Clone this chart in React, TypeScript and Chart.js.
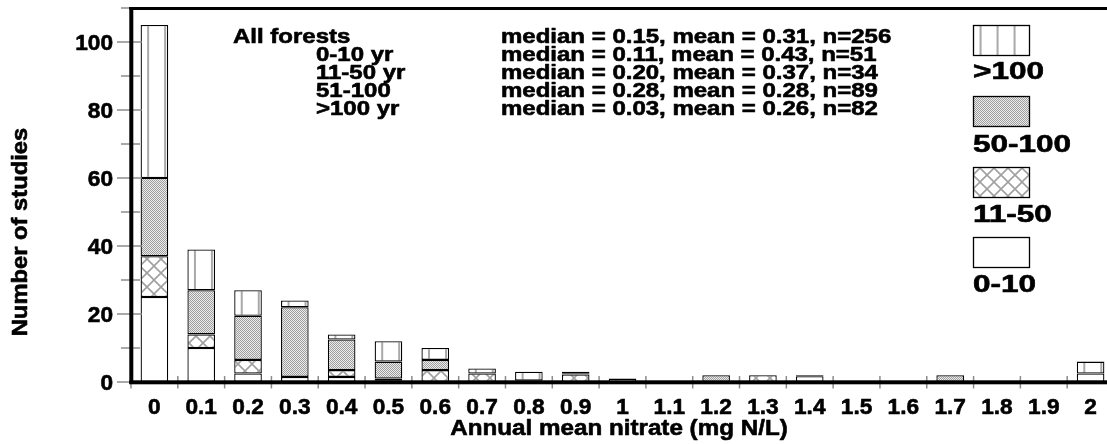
import { useEffect, useRef } from "react";
import { Chart, registerables } from "chart.js";

Chart.register(...registerables);

// Nitrate concentration bins (mg N/L)
const categories = [
  "0", "0.1", "0.2", "0.3", "0.4", "0.5", "0.6", "0.7", "0.8", "0.9", "1",
  "1.1", "1.2", "1.3", "1.4", "1.5", "1.6", "1.7", "1.8", "1.9", "2",
];

// Number of studies per bin, by forest age class
const age0to10 = [25, 10, 2.5, 1.5, 1.5, 0.5, 0, 0, 0, 0, 0, 0, 0, 0, 1.7, 0, 0, 0, 0, 0, 2.5];
const age11to50 = [12, 4, 4, 0, 2, 0.5, 3.5, 2.5, 0, 2.2, 0, 0, 0, 2, 0, 0, 0, 0, 0, 0, 0];
const age50to100 = [23, 13, 13, 20.5, 9, 5, 3, 0, 0.4, 0.4, 0, 0, 2, 0, 0, 0, 0, 2, 0, 0, 0];
const ageOver100 = [45, 12, 7.5, 2, 1.5, 6, 3.5, 1.5, 2.6, 0.4, 1, 0, 0, 0, 0.3, 0, 0, 0, 0, 0, 3.5];

const ageLabels = ["0-10", "11-50", "50-100", ">100"];

const yTickValues = [0, 20, 40, 60, 80, 100];
const yMinorValues = [10, 30, 50, 70, 90, 110];

const summaryGroups = ["All forests", "0-10 yr", "11-50 yr", "51-100", ">100 yr"];
const summaryStats = [
  "median = 0.15, mean = 0.31, n=256",
  "median = 0.11, mean = 0.43, n=51",
  "median = 0.20, mean = 0.37, n=34",
  "median = 0.28, mean = 0.28, n=89",
  "median = 0.03, mean = 0.26, n=82",
];

const xTitle = "Annual mean nitrate (mg N/L)";
const yTitle = "Number of studies";

const FONT = '"Liberation Sans", Arial, Helvetica, sans-serif';
const BAR_FRACTION = 0.59;
const TICK_GREY = "#8c8c8c";

function makeTile(w: number, h: number, paint: (g: CanvasRenderingContext2D) => void) {
  const c = document.createElement("canvas");
  c.width = w;
  c.height = h;
  paint(c.getContext("2d") as CanvasRenderingContext2D);
  return c;
}

const stippleTile = makeTile(2, 2, (g) => {
  g.fillStyle = "#ececec";
  g.fillRect(0, 0, 2, 2);
  g.fillStyle = "#9e9e9e";
  g.fillRect(0, 0, 1, 1);
  g.fillRect(1, 1, 1, 1);
});

const crossTile = makeTile(14, 14, (g) => {
  g.fillStyle = "#ffffff";
  g.fillRect(0, 0, 14, 14);
  g.strokeStyle = "#a0a0a0";
  g.lineWidth = 1.6;
  g.beginPath();
  g.moveTo(-1, -1);
  g.lineTo(15, 15);
  g.moveTo(15, -1);
  g.lineTo(-1, 15);
  g.stroke();
});

const stripeTile = makeTile(17, 2, (g) => {
  g.fillStyle = "#ffffff";
  g.fillRect(0, 0, 17, 2);
  g.fillStyle = "#a9a9a9";
  g.fillRect(0, 0, 2, 2);
});

function stripePattern(ctx: CanvasRenderingContext2D, left: number) {
  const p = ctx.createPattern(stripeTile, "repeat") as CanvasPattern;
  p.setTransform(new DOMMatrix().translate(left + 6.5, 0));
  return p;
}

function drawText(
  ctx: CanvasRenderingContext2D,
  text: string,
  x: number,
  y: number,
  size: number,
  sx: number,
  align: "left" | "right" | "center"
) {
  ctx.save();
  ctx.font = `bold ${size}px ${FONT}`;
  ctx.fillStyle = "#000";
  ctx.strokeStyle = "#000";
  ctx.lineWidth = 0.6;
  ctx.lineJoin = "round";
  ctx.textAlign = "left";
  ctx.textBaseline = "alphabetic";
  const w = ctx.measureText(text).width * sx;
  const left = align === "left" ? x : align === "right" ? x - w : x - w / 2;
  ctx.translate(left, y + 0.358 * size);
  ctx.scale(sx, 1);
  ctx.fillText(text, 0, 0);
  ctx.strokeText(text, 0, 0);
  ctx.restore();
}

const nz = (arr: number[]) => arr.map((v) => (v === 0 ? null : v));

export default function App() {
  const canvasRef = useRef<HTMLCanvasElement | null>(null);

  useEffect(() => {
    const canvas = canvasRef.current;
    if (!canvas) return;
    const ctx0 = canvas.getContext("2d") as CanvasRenderingContext2D;

    const barLeft = (chart: any, index: number) => {
      const xs = chart.scales.x;
      const step = xs.width / categories.length;
      return xs.getPixelForValue(index) - (step * BAR_FRACTION) / 2;
    };

    const fills: any[] = [
      "#ffffff",
      ctx0.createPattern(crossTile, "repeat"),
      ctx0.createPattern(stippleTile, "repeat"),
      (c: any) => {
        if (c.type !== "data" || !c.chart.scales.x) return stripePattern(ctx0, 0);
        return stripePattern(ctx0, barLeft(c.chart, c.dataIndex));
      },
    ];

    const decorations = {
      id: "decorations",
      afterDatasetsDraw(chart: any) {
        const ctx: CanvasRenderingContext2D = chart.ctx;
        const xs = chart.scales.x;
        const ys = chart.scales.y;
        const area = chart.chartArea;
        const y0 = ys.getPixelForValue(0);

        ctx.save();
        // y ticks
        ctx.strokeStyle = TICK_GREY;
        ctx.lineWidth = 1.5;
        for (const v of yTickValues) {
          const y = ys.getPixelForValue(v);
          ctx.beginPath();
          ctx.moveTo(117, y);
          ctx.lineTo(v === 0 ? 131 : 142, y);
          ctx.stroke();
        }
        for (const v of yMinorValues) {
          const y = ys.getPixelForValue(v);
          ctx.beginPath();
          ctx.moveTo(121, y);
          ctx.lineTo(v === 110 ? 131 : 140, y);
          ctx.stroke();
        }
        // x ticks at bin boundaries
        for (let i = 0; i <= categories.length; i++) {
          const x = xs.getPixelForValue(i - 0.5);
          ctx.beginPath();
          ctx.moveTo(x, y0 - 6);
          ctx.lineTo(x, y0 + 6.5);
          ctx.stroke();
        }

        // frame
        ctx.fillStyle = "#000";
        ctx.fillRect(area.left - 1.7, area.top - 1, 4, y0 - area.top + 3);
        ctx.fillRect(area.left - 1.7, area.top - 1, chart.width, 3);
        ctx.fillRect(area.left - 1.7, y0 - 1.7, chart.width, 4);

        // tick labels
        for (const v of yTickValues) {
          drawText(ctx, String(v), 113, ys.getPixelForValue(v), 22, 1.03, "right");
        }
        categories.forEach((label, i) => {
          drawText(ctx, label, xs.getPixelForValue(i), 406, 22, 1.03, "center");
        });

        // axis titles
        drawText(ctx, xTitle, (area.left + 1107) / 2, 427, 22, 1.1, "center");
        ctx.save();
        ctx.translate(19, 232);
        ctx.rotate(-Math.PI / 2);
        drawText(ctx, yTitle, 0, 0, 22, 1.08, "center");
        ctx.restore();

        // summary statistics
        summaryGroups.forEach((g, i) => {
          const y = 36 + i * 18;
          drawText(ctx, g, i === 0 ? 233 : 316, y, 20, 1.2, "left");
          drawText(ctx, summaryStats[i], 501, y, 20, 1.2, "left");
        });

        // age-class key, oldest on top
        const boxX = 973;
        const boxW = 57;
        const boxH = 31;
        const keyTops = [237, 167, 96, 25];
        const keyText = [284, 214, 144, 71];
        ageLabels.forEach((label, k) => {
          const top = keyTops[k];
          ctx.fillStyle = k === 3 ? stripePattern(ctx, boxX) : fills[k];
          ctx.fillRect(boxX, top, boxW, boxH);
          ctx.strokeStyle = "#000";
          ctx.lineWidth = 1.3;
          ctx.strokeRect(boxX + 0.5, top + 0.5, boxW - 1, boxH - 1);
          drawText(ctx, label, boxX, keyText[k], 23, 1.37, "left");
        });
        ctx.restore();
      },
    };

    const series = [age0to10, age11to50, age50to100, ageOver100];

    const chart = new Chart(canvas, {
      type: "bar",
      data: {
        labels: categories,
        datasets: series.map((values, k) => ({
          label: ageLabels[k],
          data: nz(values) as any,
          backgroundColor: fills[k],
          borderColor: "#000",
          borderWidth: 1.3,
          borderSkipped: false,
          categoryPercentage: 1,
          barPercentage: BAR_FRACTION,
        })),
      },
      options: {
        responsive: false,
        animation: false,
        devicePixelRatio: 1,
        layout: { padding: { top: 8, left: 0, right: 0, bottom: 0 } },
        plugins: { legend: { display: false }, tooltip: { enabled: false } },
        scales: {
          x: {
            stacked: true,
            grid: { display: false },
            border: { display: false },
            ticks: { display: false },
            afterFit: (s: any) => {
              s.height = 62;
            },
          },
          y: {
            stacked: true,
            min: 0,
            max: 110,
            grid: { display: false },
            border: { display: false },
            ticks: { display: false },
            afterFit: (s: any) => {
              s.width = 131;
            },
          },
        },
      },
      plugins: [decorations],
    });

    return () => chart.destroy();
  }, []);

  return (
    <div
      style={{
        position: "absolute",
        left: 0,
        top: 0,
        width: 1107,
        height: 444,
        overflow: "hidden",
        background: "#fff",
      }}
    >
      <canvas ref={canvasRef} width={1114} height={444} style={{ display: "block" }} />
    </div>
  );
}
